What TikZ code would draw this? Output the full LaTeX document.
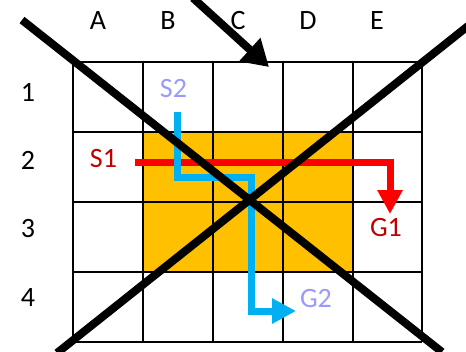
\documentclass[tikz,border=0pt]{standalone}
\usepackage{fontspec}
\setmainfont{Carlito}
\usetikzlibrary{arrows.meta}
\definecolor{orng}{HTML}{FFC000}
\definecolor{dred}{HTML}{C00000}
\definecolor{lblue}{HTML}{00B0F0}
\definecolor{lav}{HTML}{9999FF}
\tikzset{
  lbl/.style={font=\fontsize{28}{30}\selectfont, inner sep=0pt},
  gridline/.style={line width=2pt, black},
  bigx/.style={line width=8pt, black},
  redpath/.style={line width=7pt, red, -{Triangle[width=24pt,length=24pt]}},
  bluepath/.style={line width=7pt, lblue, -{Triangle[width=24pt,length=24pt]}},
}
\begin{document}
\begin{tikzpicture}[x=1pt,y=-1pt]
\useasboundingbox (0,0) rectangle (466,351);
% orange area
\fill[orng] (143,132) rectangle (352,272);
% grid
\foreach \x in {72.5,142.5,212.5,282.5,352.5,421.5} \draw[gridline] (\x,62) -- (\x,342);
\foreach \y in {62,132,202,272,342} \draw[gridline] (72.5,\y) -- (421.5,\y);
% column labels
\node[lbl] (cA) at (98,21) {A};
\node[lbl] (cB) at (168,21) {B};
\node[lbl] (cC) at (238,21) {C};
\node[lbl] (cD) at (308,21) {D};
\node[lbl] (cE) at (377,21) {E};
\node[lbl] (r1) at (28,92) {1};
\node[lbl] (r2) at (28,160) {2};
\node[lbl] (r3) at (28,229) {3};
\node[lbl] (r4) at (28,298) {4};
% agent labels
\node[lbl, text=dred] (S1) at (103.5,159) {S1};
\node[lbl, text=dred] (G1) at (386,228) {G1};
\node[lbl, text=lav] (S2) at (173.5,89) {S2};
\node[lbl, text=lav] (G2) at (316,299) {G2};
% paths
\coordinate (rs) at (135,162);
\coordinate (rc) at (390,162);
\coordinate (re) at (390,214);
\draw[redpath] (rs) -- (rc) -- (re);
\coordinate (bs) at (177,112);
\coordinate (b1) at (177,177);
\coordinate (b2) at (251,177);
\coordinate (b3) at (251,311);
\coordinate (be) at (296,311);
\draw[bluepath] (bs) -- (b1) -- (b2) -- (b3) -- (be);
% big X
\coordinate (x1a) at (22,20);
\coordinate (x1b) at (442,352);
\coordinate (x2a) at (468,26);
\coordinate (x2b) at (57,353);
\draw[bigx] (x1a) -- (x1b);
\draw[bigx] (x2a) -- (x2b);
% incoming arrow
\coordinate (aa) at (193,-2);
\coordinate (ab) at (269,67);
\draw[bigx, -{Triangle[width=30pt,length=26pt]}] (aa) -- (ab);
\end{tikzpicture}
\end{document}
